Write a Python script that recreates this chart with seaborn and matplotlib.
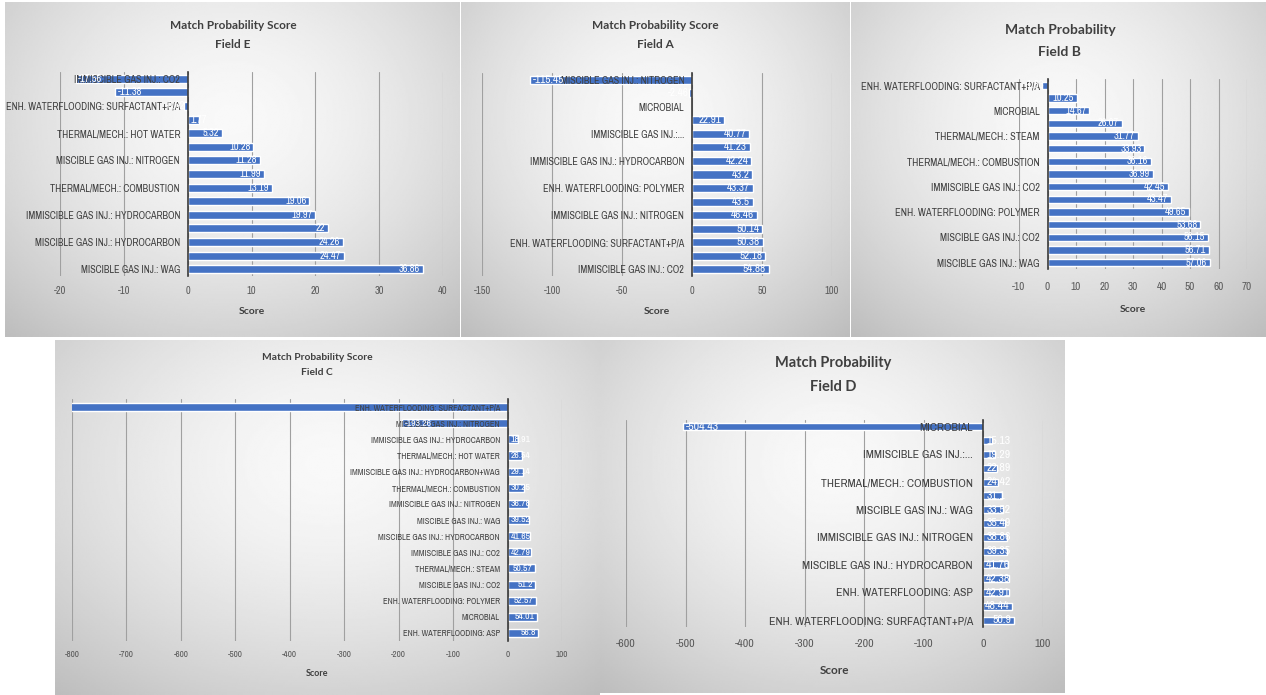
import numpy as np
import pandas as pd
import matplotlib
matplotlib.use("Agg")
import matplotlib.pyplot as plt
import seaborn as sns
from matplotlib import font_manager

# ---------------- data ----------------
e_labels = ["IMMISCIBLE GAS INJ.: CO2", "", "ENH. WATERFLOODING: SURFACTANT+P/A", "",
            "THERMAL/MECH.: HOT WATER", "", "MISCIBLE GAS INJ.: NITROGEN", "",
            "THERMAL/MECH.: COMBUSTION", "", "IMMISCIBLE GAS INJ.: HYDROCARBON", "",
            "MISCIBLE GAS INJ.: HYDROCARBON", "", "MISCIBLE GAS INJ.: WAG"]
e_values = [-17.56, -11.38, -0.62, 1.77, 5.32, 10.28, 11.28, 11.99, 13.19, 19.06,
            19.97, 22, 24.26, 24.47, 36.86]

a_labels = ["MISCIBLE GAS INJ.: NITROGEN", "", "MICROBIAL", "",
            "IMMISCIBLE GAS INJ.:...", "", "IMMISCIBLE GAS INJ.: HYDROCARBON", "",
            "ENH. WATERFLOODING: POLYMER", "", "IMMISCIBLE GAS INJ.: NITROGEN", "",
            "ENH. WATERFLOODING: SURFACTANT+P/A", "", "IMMISCIBLE GAS INJ.: CO2"]
a_values = [-115.45, -2.46, np.nan, 22.91, 40.77, 41.23, 42.24, 43.2, 43.37, 43.5,
            46.46, 50.14, 50.38, 52.18, 54.88]

b_labels = ["ENH. WATERFLOODING: SURFACTANT+P/A", "", "MICROBIAL", "",
            "THERMAL/MECH.: STEAM", "", "THERMAL/MECH.: COMBUSTION", "",
            "IMMISCIBLE GAS INJ.: CO2", "", "ENH. WATERFLOODING: POLYMER", "",
            "MISCIBLE GAS INJ.: CO2", "", "MISCIBLE GAS INJ.: WAG"]
b_values = [-1.83, 10.25, 14.67, 26.07, 31.77, 33.93, 36.16, 36.99, 42.45, 43.47,
            49.65, 53.68, 56.15, 56.71, 57.06]

c_labels = ["ENH. WATERFLOODING: SURFACTANT+P/A", "MISCIBLE GAS INJ.: NITROGEN",
            "IMMISCIBLE GAS INJ.: HYDROCARBON", "THERMAL/MECH.: HOT WATER",
            "IMMISCIBLE GAS INJ.: HYDROCARBON+WAG", "THERMAL/MECH.: COMBUSTION",
            "IMMISCIBLE GAS INJ.: NITROGEN", "MISCIBLE GAS INJ.: WAG",
            "MISCIBLE GAS INJ.: HYDROCARBON", "IMMISCIBLE GAS INJ.: CO2",
            "THERMAL/MECH.: STEAM", "MISCIBLE GAS INJ.: CO2",
            "ENH. WATERFLOODING: POLYMER", "MICROBIAL", "ENH. WATERFLOODING: ASP"]
c_values = [-805.0, -193.26, 18.91, 26.54, 29.14, 30.25, 36.78, 39.52, 41.65, 42.79,
            50.57, 51.2, 52.57, 54.01, 56.8]

d_labels = ["MICROBIAL", "", "IMMISCIBLE GAS INJ.:...", "",
            "THERMAL/MECH.: COMBUSTION", "", "MISCIBLE GAS INJ.: WAG", "",
            "IMMISCIBLE GAS INJ.: NITROGEN", "", "MISCIBLE GAS INJ.: HYDROCARBON", "",
            "ENH. WATERFLOODING: ASP", "", "ENH. WATERFLOODING: SURFACTANT+P/A"]
d_values = [-504.43, 15.13, 19.29, 22.89, 24.42, 31.1, 33.52, 35.49, 38.86, 39.35,
            41.76, 42.38, 42.91, 48.44, 50.9]

e_ticks = [-20, -10, 0, 10, 20, 30, 40]
a_ticks = [-150, -100, -50, 0, 50, 100]
b_ticks = [-10, 0, 10, 20, 30, 40, 50, 60, 70]
c_ticks = [-800, -700, -600, -500, -400, -300, -200, -100, 0, 100]
d_ticks = [-600, -500, -400, -300, -200, -100, 0, 100]

# ---------------- style ----------------
sns.set_theme(style="white")
fl = font_manager.fontManager.ttflist
names = {f.name for f in fl}
STRETCH = "normal"
if "Liberation Sans Narrow" in names:
    FONT = "Liberation Sans Narrow"
else:
    cond_names = sorted(n for n in names if "Condensed" in n or "Narrow" in n)
    cond_faces = [f for f in fl if f.name in ("Noto Sans", "Roboto", "Open Sans")
                  and str(f.stretch) in ("condensed", "semi-condensed", "75", "87")]
    if cond_names:
        FONT = cond_names[0]
    elif cond_faces:
        FONT = cond_faces[0].name
        STRETCH = cond_faces[0].stretch
    else:
        FONT = "Lato"
BOLDFONT = "Lato" if "Lato" in names else FONT
plt.rcParams["font.family"] = [FONT, "DejaVu Sans"]
plt.rcParams["font.stretch"] = STRETCH

W, H = 1266, 695
fig = plt.figure(figsize=(W / 100, H / 100), dpi=100)
fig.patch.set_facecolor("white")

BAR = "#4472C4"
TXT = "#404040"
TICK = "#595959"
GRID = "#a0a0a0"


def px_rect(x0, y0, x1, y1):
    return [x0 / W, 1 - y1 / H, (x1 - x0) / W, (y1 - y0) / H]


def background(x0, y0, x1, y1, cy=0.35):
    bg = fig.add_axes(px_rect(x0, y0, x1, y1), zorder=0)
    ny, nx = 200, 300
    yy, xx = np.mgrid[0:1:ny * 1j, 0:1:nx * 1j]
    d = np.sqrt(((xx - 0.5) / 0.75) ** 2 + ((yy - cy) / 0.85) ** 2)
    img = 0.975 - 0.23 * np.clip(d, 0, 1.3) ** 1.6
    bg.imshow(img, cmap="gray", vmin=0, vmax=1, aspect="auto",
              extent=[0, 1, 0, 1], origin="upper", interpolation="bilinear")
    bg.axis("off")


def panel(rect_px, labels, values, ticks, fs_cat, fs_tick, fs_val, bar_h,
          tick_off, score_off, fs_score, cat_pad=5.5):
    x0, y0, x1, y1 = rect_px
    ax = fig.add_axes(px_rect(x0, y0, x1, y1), zorder=1)
    n = len(values)
    rows = [f"r{i}" for i in range(n)]
    df = pd.DataFrame({"row": rows, "score": values})
    sns.barplot(data=df, x="score", y="row", orient="h", color=BAR, saturation=1,
                width=bar_h, ax=ax, errorbar=None, order=rows)
    ax.patch.set_alpha(0)
    for s in ["top", "right", "bottom"]:
        ax.spines[s].set_visible(False)
    ax.spines["left"].set_position(("data", 0))
    ax.spines["left"].set_color("#3a3a3a")
    ax.spines["left"].set_linewidth(1.2)
    ax.spines["left"].set_zorder(3.5)
    ax.set_xlim(ticks[0], ticks[-1])
    ax.set_ylim(n - 0.5, -0.5)
    ax.set_xticks(ticks)
    ax.set_xticklabels([str(t) for t in ticks])
    ax.set_yticks(range(n))
    ax.set_yticklabels(labels)
    ax.grid(axis="x", color=GRID, linewidth=0.8)
    ax.grid(axis="y", visible=False)
    h_px = y1 - y0
    txt_h = fs_tick / 0.72
    ax.tick_params(axis="x", length=0, pad=(tick_off - txt_h * 0.55) * 0.72,
                   labelsize=fs_tick, labelcolor=TICK)
    ax.tick_params(axis="y", length=0, pad=cat_pad, labelsize=fs_cat, labelcolor=TXT)
    ax.set_ylabel("")
    ax.set_xlabel("Score", fontsize=fs_score, fontweight="bold", color=TXT,
                  family=[BOLDFONT, "DejaVu Sans"])
    ax.xaxis.set_label_coords(0.5, -score_off / h_px)
    ax.xaxis.label.set_va("center")
    ax.xaxis.set_zorder(0.5)
    ax.yaxis.set_zorder(3)
    texts = []
    xmin = ticks[0]
    for i, v in enumerate(values):
        if v is None or np.isnan(v) or v < xmin:
            continue
        if v >= 0:
            t = ax.annotate(f"{v:g}", (v, i), xytext=(-2, 0), textcoords="offset points",
                            ha="right", va="center", color="white", fontsize=fs_val, zorder=4)
        else:
            t = ax.annotate(f"{v:g}", (v, i), xytext=(2, 0), textcoords="offset points",
                            ha="left", va="center", color="white", fontsize=fs_val, zorder=4)
        texts.append((t, v, i))
    return ax, texts


def title(cx, cy, s, fs):
    fig.text(cx / W, 1 - cy / H, s, ha="center", va="center", fontsize=fs,
             fontweight="bold", color=TXT, linespacing=1.95,
             family=[BOLDFONT, "DejaVu Sans"])


# backgrounds
background(5, 2, 460, 337)
background(461, 2, 850, 337)
background(851, 2, 1266, 337)
background(55, 340, 600, 695)
background(600, 340, 1065, 693)

all_texts = []
ax_e, t = panel((60, 72, 443, 276), e_labels, e_values, e_ticks, 7.3, 7.5, 7.5, 0.6, 16, 36, 7.5)
all_texts.append((ax_e, t))
ax_a, t = panel((482, 73, 832, 276), a_labels, a_values, a_ticks, 7.3, 7.5, 8, 0.6, 16, 36, 7.5)
all_texts.append((ax_a, t))
ax_b, t = panel((1019, 79, 1247, 269), b_labels, b_values, b_ticks, 7.5, 8, 7.5, 0.6, 19, 40, 7.5)
all_texts.append((ax_b, t))
ax_c, t = panel((72, 399, 562, 641), c_labels, c_values, c_ticks, 6.1, 6.5, 7, 0.5, 14, 32, 6.5)
all_texts.append((ax_c, t))
ax_d, t = panel((626, 420, 1043, 627), d_labels, d_values, d_ticks, 8.5, 8.5, 8.5, 0.5, 18, 43,
                8.5, cat_pad=7.5)
all_texts.append((ax_d, t))

title(233, 35, "Match Probability Score\nField E", 8.5)
title(655, 35, "Match Probability Score\nField A", 8.5)
title(1060, 41, "Match Probability\nField B", 10)
title(317, 365, "Match Probability Score\nField C", 7.4)
title(833, 375, "Match Probability\nField D", 10.5)

# keep value labels starting at the bar base when the bar is too short (Excel behaviour)
fig.canvas.draw()
r = fig.canvas.get_renderer()
for ax, items in all_texts:
    zero_px = ax.transData.transform((0, 0))[0]
    for t, v, i in items:
        bb = t.get_window_extent(r)
        if v >= 0 and bb.x0 < zero_px + 1:
            t.xy = (0, i)
            t.xyann = (2, 0)
            t.set_ha("left")
        elif v < 0 and bb.x1 > zero_px - 1:
            t.xy = (0, i)
            t.xyann = (-2, 0)
            t.set_ha("right")

fig.savefig("out.png", dpi=100, facecolor="white")
